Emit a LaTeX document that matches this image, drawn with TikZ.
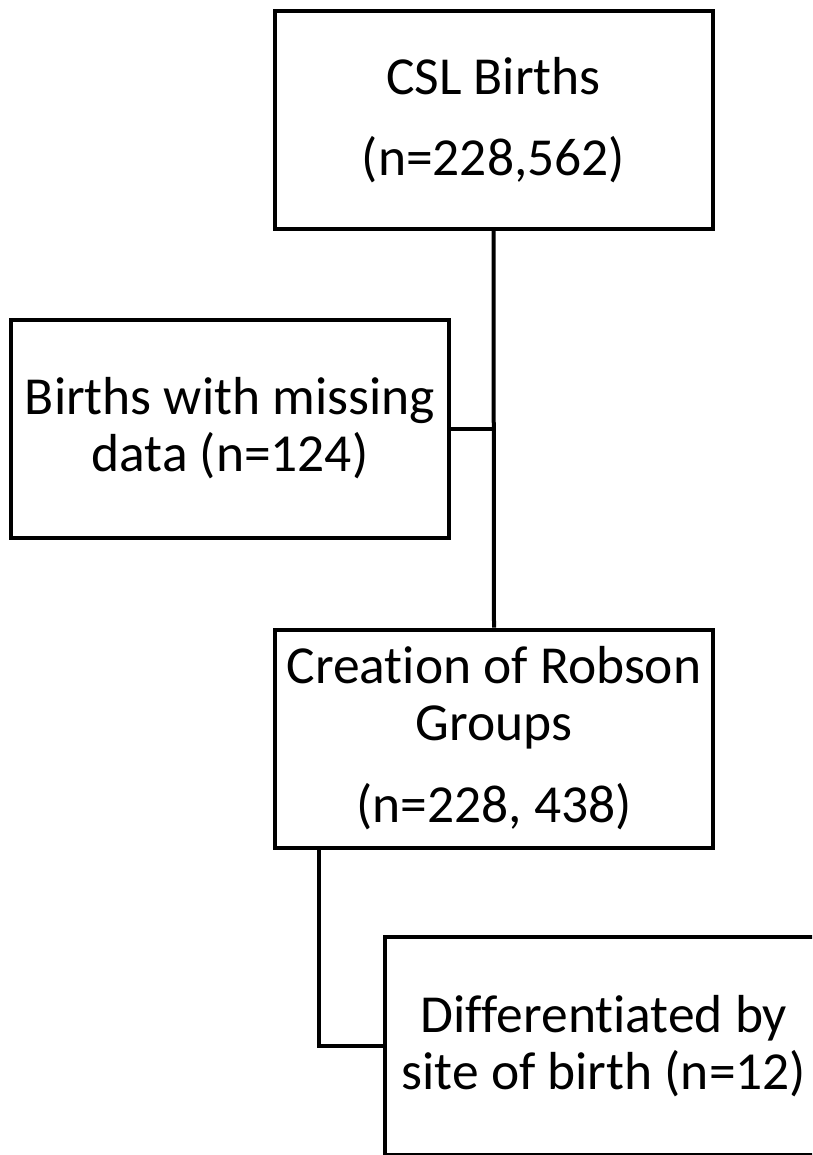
\documentclass[tikz,border=0pt]{standalone}
\usepackage{fontspec}
\setmainfont[Ligatures={NoCommon}]{Carlito}
\begin{document}
\begin{tikzpicture}[x=1pt,y=-1pt,
  box/.style={draw=black, line width=4pt, rectangle, minimum width=438pt, minimum height=218pt,
    inner sep=0pt, align=center, font=\fontsize{53.5}{57}\selectfont},
  conn/.style={draw=black, line width=4pt}]
\useasboundingbox (0,0) rectangle (812,1155);
\clip (0,0) rectangle (812,1155);
\fill[white] (0,0) rectangle (812,1155);
\node[box] (b1) at (493.5,120) {CSL Births\\[24pt](n=228,562)};
\node[box] (b2) at (230,428.5) {Births with missing\\data (n=124)};
\node[box] (b3) at (494,738.5) {Creation of Robson\\Groups\\[25pt](n=228, 438)};
\node[box] (b4) at (604,1046) {Differentiated by\\site of birth (n=12)};
\coordinate (j) at (b1.south |- b2.east);
\coordinate (k) at ([xshift=46pt]b3.south west);
\draw[conn] (b1.south) -- (b3.north);
\draw[conn] (b2.east) -- (j);
\draw[conn] (k) |- (b4.west);
\end{tikzpicture}
\end{document}
